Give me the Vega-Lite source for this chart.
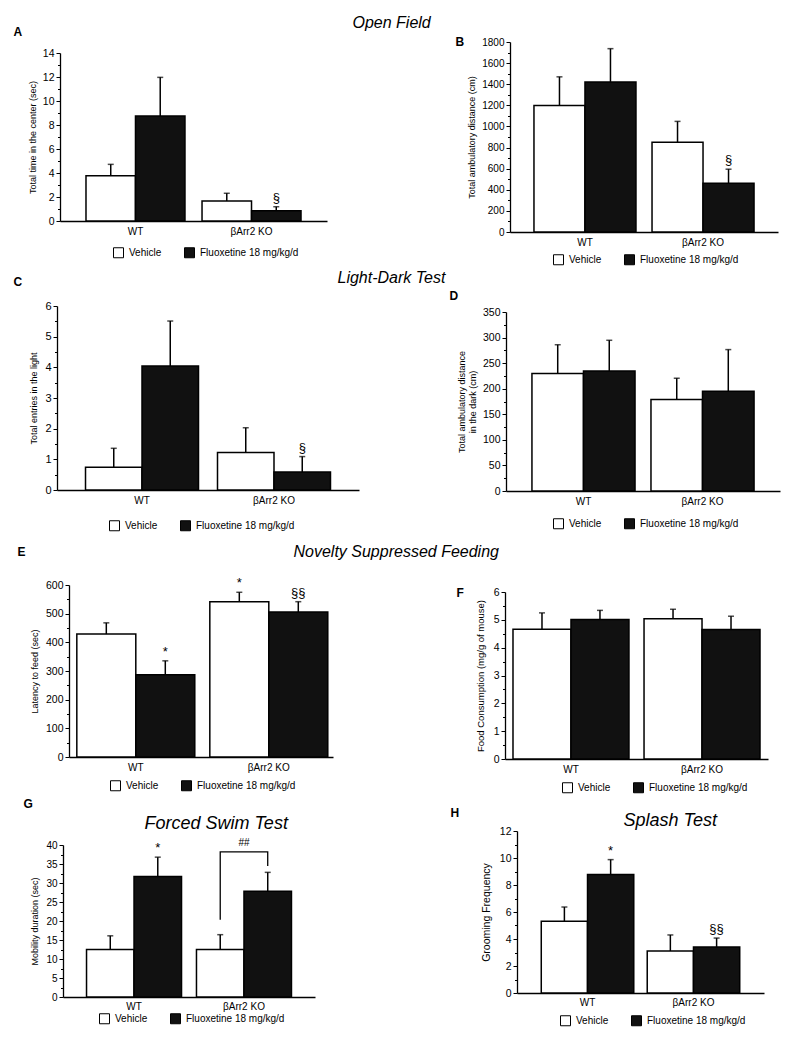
{
  "$schema": "https://vega.github.io/schema/vega-lite/v6.json",
  "padding": {"left": 13, "top": 14, "right": 5, "bottom": 5},
  "background": "white",
  "datasets": {
    "A": [
      {"group": "WT", "treatment": "Vehicle", "mean": 3.78, "upper": 4.72, "sig": ""},
      {"group": "WT", "treatment": "Fluoxetine 18 mg/kg/d", "mean": 8.75, "upper": 11.97, "sig": ""},
      {"group": "βArr2 KO", "treatment": "Vehicle", "mean": 1.67, "upper": 2.31, "sig": ""},
      {"group": "βArr2 KO", "treatment": "Fluoxetine 18 mg/kg/d", "mean": 0.86, "upper": 1.19, "sig": "§"}
    ],
    "B": [
      {"group": "WT", "treatment": "Vehicle", "mean": 1199, "upper": 1470, "sig": ""},
      {"group": "WT", "treatment": "Fluoxetine 18 mg/kg/d", "mean": 1422, "upper": 1737, "sig": ""},
      {"group": "βArr2 KO", "treatment": "Vehicle", "mean": 850, "upper": 1048, "sig": ""},
      {"group": "βArr2 KO", "treatment": "Fluoxetine 18 mg/kg/d", "mean": 463, "upper": 595, "sig": "§"}
    ],
    "C": [
      {"group": "WT", "treatment": "Vehicle", "mean": 0.74, "upper": 1.36, "sig": ""},
      {"group": "WT", "treatment": "Fluoxetine 18 mg/kg/d", "mean": 4.04, "upper": 5.51, "sig": ""},
      {"group": "βArr2 KO", "treatment": "Vehicle", "mean": 1.22, "upper": 2.03, "sig": ""},
      {"group": "βArr2 KO", "treatment": "Fluoxetine 18 mg/kg/d", "mean": 0.59, "upper": 1.09, "sig": "§"}
    ],
    "D": [
      {"group": "WT", "treatment": "Vehicle", "mean": 229.7, "upper": 286, "sig": ""},
      {"group": "WT", "treatment": "Fluoxetine 18 mg/kg/d", "mean": 234.8, "upper": 294.7, "sig": ""},
      {"group": "βArr2 KO", "treatment": "Vehicle", "mean": 179, "upper": 220.5, "sig": ""},
      {"group": "βArr2 KO", "treatment": "Fluoxetine 18 mg/kg/d", "mean": 195.2, "upper": 276.5, "sig": ""}
    ],
    "E": [
      {"group": "WT", "treatment": "Vehicle", "mean": 428.9, "upper": 468, "sig": ""},
      {"group": "WT", "treatment": "Fluoxetine 18 mg/kg/d", "mean": 286.6, "upper": 335.5, "sig": "*"},
      {"group": "βArr2 KO", "treatment": "Vehicle", "mean": 541.8, "upper": 574.6, "sig": "*"},
      {"group": "βArr2 KO", "treatment": "Fluoxetine 18 mg/kg/d", "mean": 505.8, "upper": 541.8, "sig": "§§"}
    ],
    "F": [
      {"group": "WT", "treatment": "Vehicle", "mean": 4.66, "upper": 5.25, "sig": ""},
      {"group": "WT", "treatment": "Fluoxetine 18 mg/kg/d", "mean": 5.01, "upper": 5.34, "sig": ""},
      {"group": "βArr2 KO", "treatment": "Vehicle", "mean": 5.04, "upper": 5.38, "sig": ""},
      {"group": "βArr2 KO", "treatment": "Fluoxetine 18 mg/kg/d", "mean": 4.65, "upper": 5.13, "sig": ""}
    ],
    "G": [
      {"group": "WT", "treatment": "Vehicle", "mean": 12.5, "upper": 16.1, "sig": ""},
      {"group": "WT", "treatment": "Fluoxetine 18 mg/kg/d", "mean": 31.7, "upper": 36.8, "sig": "*"},
      {"group": "βArr2 KO", "treatment": "Vehicle", "mean": 12.5, "upper": 16.4, "sig": ""},
      {"group": "βArr2 KO", "treatment": "Fluoxetine 18 mg/kg/d", "mean": 27.8, "upper": 32.8, "sig": ""}
    ],
    "G_bracket": [
      {"group": "βArr2 KO", "treatment": "Vehicle", "y": 20.3, "step": 1},
      {"group": "βArr2 KO", "treatment": "Vehicle", "y": 38.2, "step": 2},
      {"group": "βArr2 KO", "treatment": "Fluoxetine 18 mg/kg/d", "y": 38.2, "step": 3},
      {"group": "βArr2 KO", "treatment": "Fluoxetine 18 mg/kg/d", "y": 34.5, "step": 4}
    ],
    "G_label": [
      {"group": "βArr2 KO", "y": 40.6, "label": "##"}
    ],
    "H": [
      {"group": "WT", "treatment": "Vehicle", "mean": 5.31, "upper": 6.37, "sig": ""},
      {"group": "WT", "treatment": "Fluoxetine 18 mg/kg/d", "mean": 8.77, "upper": 9.88, "sig": "*"},
      {"group": "βArr2 KO", "treatment": "Vehicle", "mean": 3.11, "upper": 4.3, "sig": ""},
      {"group": "βArr2 KO", "treatment": "Fluoxetine 18 mg/kg/d", "mean": 3.41, "upper": 4.07, "sig": "§§"}
    ]
  },
  "columns": 2,
  "spacing": {"row": 72, "column": 158},
  "bounds": "flush",
  "resolve": {"scale": {"fill": "independent", "xOffset": "independent"}},
  "concat": [
    {
      "width": 290, "height": 192,
      "data": {"name": "A"},
      "layer": [
        {"mark": {"type": "bar", "stroke": "black", "strokeWidth": 1.5},
         "encoding": {
           "x": {"field": "group", "type": "nominal", "sort": ["WT", "βArr2 KO"], "scale": {"range": [-9, 258], "paddingInner": 0.147, "paddingOuter": 0.224}, "axis": {"orient": "bottom", "title": null, "ticks": false, "labelAngle": 0, "labelFontSize": 10, "labelPadding": 5, "offset": -13, "domainWidth": 1.3}},
           "xOffset": {"field": "treatment", "type": "nominal", "sort": ["Vehicle", "Fluoxetine 18 mg/kg/d"]},
           "y": {"field": "mean", "type": "quantitative", "scale": {"domain": [0, 14], "range": [179, 11], "nice": false, "zero": true}, "axis": {"orient": "left", "values": [0, 2, 4, 6, 8, 10, 12, 14], "format": "d", "title": "Total time in the center (sec)", "offset": 9, "tickSize": 4, "labelFontSize": 10.5, "titleFontSize": 9, "titlePadding": 5, "domainWidth": 1.3}},
           "fill": {"field": "treatment", "type": "nominal", "scale": {"domain": ["Vehicle", "Fluoxetine 18 mg/kg/d"], "range": ["white", "#111111"]}, "legend": {"orient": "none", "legendX": 44, "legendY": 205, "direction": "horizontal", "title": null}}
         }},
        {"mark": {"type": "rule", "strokeWidth": 1.5, "color": "black"},
         "encoding": {
           "x": {"field": "group", "type": "nominal", "sort": ["WT", "βArr2 KO"], "axis": {"orient": "top", "title": "A", "labels": false, "ticks": false, "domain": false, "titleX": -56, "titleY": -7, "titleAngle": 0, "titleAlign": "left", "titleBaseline": "alphabetic", "titleFontWeight": "bold", "titleFontSize": 12}},
           "xOffset": {"field": "treatment", "type": "nominal", "sort": ["Vehicle", "Fluoxetine 18 mg/kg/d"]},
           "y": {"field": "mean", "type": "quantitative", "axis": {"orient": "left", "values": [1, 3, 5, 7, 9, 11, 13], "labels": false, "domain": false, "title": null, "tickSize": 2.5, "offset": 9}},
           "y2": {"field": "upper"}
         }},
        {"mark": {"type": "tick", "thickness": 1.5, "size": 6, "orient": "horizontal", "color": "black"},
         "encoding": {
           "x": {"field": "group", "type": "nominal", "sort": ["WT", "βArr2 KO"], "axis": null},
           "xOffset": {"field": "treatment", "type": "nominal", "sort": ["Vehicle", "Fluoxetine 18 mg/kg/d"]},
           "y": {"field": "upper", "type": "quantitative", "axis": null}
         }},
        {"transform": [{"filter": "datum.sig != ''"}],
         "mark": {"type": "text", "baseline": "bottom", "dy": -2, "fontSize": 13, "color": "black"},
         "encoding": {
           "x": {"field": "group", "type": "nominal", "sort": ["WT", "βArr2 KO"], "axis": {"orient": "top", "title": "Open Field", "labels": false, "ticks": false, "domain": false, "titleX": 283, "titleY": -15, "titleAngle": 0, "titleAlign": "left", "titleBaseline": "alphabetic", "titleFontStyle": "italic", "titleFontWeight": "normal", "titleFontSize": 16}},
           "xOffset": {"field": "treatment", "type": "nominal", "sort": ["Vehicle", "Fluoxetine 18 mg/kg/d"]},
           "y": {"field": "upper", "type": "quantitative", "axis": null},
           "text": {"field": "sig"}
         }}
      ],
      "resolve": {"axis": {"x": "independent", "y": "independent"}}
    },
    {
      "width": 263, "height": 192,
      "data": {"name": "B"},
      "layer": [
        {"mark": {"type": "bar", "stroke": "black", "strokeWidth": 1.5},
         "encoding": {
           "x": {"field": "group", "type": "nominal", "sort": ["WT", "βArr2 KO"], "scale": {"range": [-7, 261], "paddingInner": 0.136, "paddingOuter": 0.203}, "axis": {"orient": "bottom", "title": null, "ticks": false, "labelAngle": 0, "labelFontSize": 10, "labelPadding": 5, "offset": -2, "domainWidth": 1.3}},
           "xOffset": {"field": "treatment", "type": "nominal", "sort": ["Vehicle", "Fluoxetine 18 mg/kg/d"]},
           "y": {"field": "mean", "type": "quantitative", "scale": {"domain": [0, 1800], "range": [190, 0], "nice": false}, "axis": {"orient": "left", "values": [0, 200, 400, 600, 800, 1000, 1200, 1400, 1600, 1800], "format": "d", "title": "Total ambulatory distance (cm)", "offset": 7, "tickSize": 4, "labelFontSize": 10, "titleFontSize": 9, "titlePadding": 5, "domainWidth": 1.3}},
           "fill": {"field": "treatment", "type": "nominal", "scale": {"domain": ["Vehicle", "Fluoxetine 18 mg/kg/d"], "range": ["white", "#111111"]}, "legend": {"orient": "none", "legendX": 36, "legendY": 212, "direction": "horizontal", "title": null}}
         }},
        {"mark": {"type": "rule", "strokeWidth": 1.5, "color": "black"},
         "encoding": {
           "x": {"field": "group", "type": "nominal", "sort": ["WT", "βArr2 KO"], "axis": {"orient": "top", "title": "B", "labels": false, "ticks": false, "domain": false, "titleX": -62, "titleY": 3, "titleAngle": 0, "titleAlign": "left", "titleBaseline": "alphabetic", "titleFontWeight": "bold", "titleFontSize": 12}},
           "xOffset": {"field": "treatment", "type": "nominal", "sort": ["Vehicle", "Fluoxetine 18 mg/kg/d"]},
           "y": {"field": "mean", "type": "quantitative", "axis": {"orient": "left", "values": [100, 300, 500, 700, 900, 1100, 1300, 1500, 1700], "labels": false, "domain": false, "title": null, "tickSize": 2.5, "offset": 7}},
           "y2": {"field": "upper"}
         }},
        {"mark": {"type": "tick", "thickness": 1.5, "size": 6, "orient": "horizontal", "color": "black"},
         "encoding": {
           "x": {"field": "group", "type": "nominal", "sort": ["WT", "βArr2 KO"], "axis": null},
           "xOffset": {"field": "treatment", "type": "nominal", "sort": ["Vehicle", "Fluoxetine 18 mg/kg/d"]},
           "y": {"field": "upper", "type": "quantitative", "axis": null}
         }},
        {"transform": [{"filter": "datum.sig != ''"}],
         "mark": {"type": "text", "baseline": "bottom", "dy": -2, "fontSize": 13, "color": "black"},
         "encoding": {
           "x": {"field": "group", "type": "nominal", "sort": ["WT", "βArr2 KO"], "axis": null},
           "xOffset": {"field": "treatment", "type": "nominal", "sort": ["Vehicle", "Fluoxetine 18 mg/kg/d"]},
           "y": {"field": "upper", "type": "quantitative", "axis": null},
           "text": {"field": "sig"}
         }}
      ],
      "resolve": {"axis": {"x": "independent", "y": "independent"}}
    },
    {
      "width": 290, "height": 207,
      "data": {"name": "C"},
      "layer": [
        {"mark": {"type": "bar", "stroke": "black", "strokeWidth": 1.5},
         "encoding": {
           "x": {"field": "group", "type": "nominal", "sort": ["WT", "βArr2 KO"], "scale": {"range": [-12, 290], "paddingInner": 0.144, "paddingOuter": 0.216}, "axis": {"orient": "bottom", "title": null, "ticks": false, "labelAngle": 0, "labelFontSize": 10, "labelPadding": 5, "offset": -23, "domainWidth": 1.3}},
           "xOffset": {"field": "treatment", "type": "nominal", "sort": ["Vehicle", "Fluoxetine 18 mg/kg/d"]},
           "y": {"field": "mean", "type": "quantitative", "scale": {"domain": [0, 6], "range": [184, 0], "nice": false}, "axis": {"orient": "left", "values": [0, 1, 2, 3, 4, 5, 6], "format": "d", "title": "Total entries in the light", "offset": 12, "tickSize": 4, "labelFontSize": 11, "titleFontSize": 9, "titlePadding": 6, "domainWidth": 1.3}},
           "fill": {"field": "treatment", "type": "nominal", "scale": {"domain": ["Vehicle", "Fluoxetine 18 mg/kg/d"], "range": ["white", "#111111"]}, "legend": {"orient": "none", "legendX": 40, "legendY": 214, "direction": "horizontal", "title": null}}
         }},
        {"mark": {"type": "rule", "strokeWidth": 1.5, "color": "black"},
         "encoding": {
           "x": {"field": "group", "type": "nominal", "sort": ["WT", "βArr2 KO"], "axis": {"orient": "top", "title": "C", "labels": false, "ticks": false, "domain": false, "titleX": -56, "titleY": -21, "titleAngle": 0, "titleAlign": "left", "titleBaseline": "alphabetic", "titleFontWeight": "bold", "titleFontSize": 12}},
           "xOffset": {"field": "treatment", "type": "nominal", "sort": ["Vehicle", "Fluoxetine 18 mg/kg/d"]},
           "y": {"field": "mean", "type": "quantitative", "axis": {"orient": "left", "values": [0.5, 1.5, 2.5, 3.5, 4.5, 5.5], "labels": false, "domain": false, "title": null, "tickSize": 2.5, "offset": 12}},
           "y2": {"field": "upper"}
         }},
        {"mark": {"type": "tick", "thickness": 1.5, "size": 6, "orient": "horizontal", "color": "black"},
         "encoding": {
           "x": {"field": "group", "type": "nominal", "sort": ["WT", "βArr2 KO"], "axis": null},
           "xOffset": {"field": "treatment", "type": "nominal", "sort": ["Vehicle", "Fluoxetine 18 mg/kg/d"]},
           "y": {"field": "upper", "type": "quantitative", "axis": null}
         }},
        {"transform": [{"filter": "datum.sig != ''"}],
         "mark": {"type": "text", "baseline": "bottom", "dy": -2, "fontSize": 13, "color": "black"},
         "encoding": {
           "x": {"field": "group", "type": "nominal", "sort": ["WT", "βArr2 KO"], "axis": {"orient": "top", "title": "Light-Dark Test", "labels": false, "ticks": false, "domain": false, "titleX": 268, "titleY": -24, "titleAngle": 0, "titleAlign": "left", "titleBaseline": "alphabetic", "titleFontStyle": "italic", "titleFontWeight": "normal", "titleFontSize": 16}},
           "xOffset": {"field": "treatment", "type": "nominal", "sort": ["Vehicle", "Fluoxetine 18 mg/kg/d"]},
           "y": {"field": "upper", "type": "quantitative", "axis": null},
           "text": {"field": "sig"}
         }}
      ],
      "resolve": {"axis": {"x": "independent", "y": "independent"}}
    },
    {
      "width": 263, "height": 207,
      "data": {"name": "D"},
      "layer": [
        {"mark": {"type": "bar", "stroke": "black", "strokeWidth": 1.5},
         "encoding": {
           "x": {"field": "group", "type": "nominal", "sort": ["WT", "βArr2 KO"], "scale": {"range": [-11, 263], "paddingInner": 0.134, "paddingOuter": 0.218}, "axis": {"orient": "bottom", "title": null, "ticks": false, "labelAngle": 0, "labelFontSize": 10, "labelPadding": 5, "offset": -22, "domainWidth": 1.3}},
           "xOffset": {"field": "treatment", "type": "nominal", "sort": ["Vehicle", "Fluoxetine 18 mg/kg/d"]},
           "y": {"field": "mean", "type": "quantitative", "scale": {"domain": [0, 350], "range": [185, 6], "nice": false}, "axis": {"orient": "left", "values": [0, 50, 100, 150, 200, 250, 300, 350], "format": "d", "title": ["Total ambulatory distance", "in the dark (cm)"], "offset": 11, "tickSize": 4, "labelFontSize": 10.5, "titleFontSize": 9, "titlePadding": 5, "domainWidth": 1.3}},
           "fill": {"field": "treatment", "type": "nominal", "scale": {"domain": ["Vehicle", "Fluoxetine 18 mg/kg/d"], "range": ["white", "#111111"]}, "legend": {"orient": "none", "legendX": 36, "legendY": 212, "direction": "horizontal", "title": null}}
         }},
        {"mark": {"type": "rule", "strokeWidth": 1.5, "color": "black"},
         "encoding": {
           "x": {"field": "group", "type": "nominal", "sort": ["WT", "βArr2 KO"], "axis": {"orient": "top", "title": "D", "labels": false, "ticks": false, "domain": false, "titleX": -68, "titleY": -7, "titleAngle": 0, "titleAlign": "left", "titleBaseline": "alphabetic", "titleFontWeight": "bold", "titleFontSize": 12}},
           "xOffset": {"field": "treatment", "type": "nominal", "sort": ["Vehicle", "Fluoxetine 18 mg/kg/d"]},
           "y": {"field": "mean", "type": "quantitative", "axis": {"orient": "left", "values": [25, 75, 125, 175, 225, 275, 325], "labels": false, "domain": false, "title": null, "tickSize": 2.5, "offset": 11}},
           "y2": {"field": "upper"}
         }},
        {"mark": {"type": "tick", "thickness": 1.5, "size": 6, "orient": "horizontal", "color": "black"},
         "encoding": {
           "x": {"field": "group", "type": "nominal", "sort": ["WT", "βArr2 KO"], "axis": null},
           "xOffset": {"field": "treatment", "type": "nominal", "sort": ["Vehicle", "Fluoxetine 18 mg/kg/d"]},
           "y": {"field": "upper", "type": "quantitative", "axis": null}
         }}
      ],
      "resolve": {"axis": {"x": "independent", "y": "independent"}}
    },
    {
      "width": 290, "height": 174,
      "data": {"name": "E"},
      "layer": [
        {"mark": {"type": "bar", "stroke": "black", "strokeWidth": 1.5},
         "encoding": {
           "x": {"field": "group", "type": "nominal", "sort": ["WT", "βArr2 KO"], "scale": {"range": [0, 264], "paddingInner": 0.113, "paddingOuter": 0.049, "align": 0.6}, "axis": {"orient": "bottom", "title": null, "ticks": false, "labelAngle": 0, "labelFontSize": 10, "labelPadding": 5, "offset": -2, "domainWidth": 1.3}},
           "xOffset": {"field": "treatment", "type": "nominal", "sort": ["Vehicle", "Fluoxetine 18 mg/kg/d"]},
           "y": {"field": "mean", "type": "quantitative", "scale": {"domain": [0, 600], "range": [172, 0], "nice": false}, "axis": {"orient": "left", "values": [0, 100, 200, 300, 400, 500, 600], "format": "d", "title": "Latency to feed (sec)", "offset": 0, "tickSize": 4, "labelFontSize": 10.5, "titleFontSize": 9, "titlePadding": 6, "domainWidth": 1.3}},
           "fill": {"field": "treatment", "type": "nominal", "scale": {"domain": ["Vehicle", "Fluoxetine 18 mg/kg/d"], "range": ["white", "#111111"]}, "legend": {"orient": "none", "legendX": 41, "legendY": 195, "direction": "horizontal", "title": null}}
         }},
        {"mark": {"type": "rule", "strokeWidth": 1.5, "color": "black"},
         "encoding": {
           "x": {"field": "group", "type": "nominal", "sort": ["WT", "βArr2 KO"], "axis": {"orient": "top", "title": "E", "labels": false, "ticks": false, "domain": false, "titleX": -52, "titleY": -30, "titleAngle": 0, "titleAlign": "left", "titleBaseline": "alphabetic", "titleFontWeight": "bold", "titleFontSize": 12}},
           "xOffset": {"field": "treatment", "type": "nominal", "sort": ["Vehicle", "Fluoxetine 18 mg/kg/d"]},
           "y": {"field": "mean", "type": "quantitative", "axis": {"orient": "left", "values": [50, 150, 250, 350, 450, 550], "labels": false, "domain": false, "title": null, "tickSize": 2.5, "offset": 0}},
           "y2": {"field": "upper"}
         }},
        {"mark": {"type": "tick", "thickness": 1.5, "size": 6, "orient": "horizontal", "color": "black"},
         "encoding": {
           "x": {"field": "group", "type": "nominal", "sort": ["WT", "βArr2 KO"], "axis": null},
           "xOffset": {"field": "treatment", "type": "nominal", "sort": ["Vehicle", "Fluoxetine 18 mg/kg/d"]},
           "y": {"field": "upper", "type": "quantitative", "axis": null}
         }},
        {"transform": [{"filter": "datum.sig != ''"}],
         "mark": {"type": "text", "baseline": "bottom", "dy": -2, "fontSize": 13, "color": "black"},
         "encoding": {
           "x": {"field": "group", "type": "nominal", "sort": ["WT", "βArr2 KO"], "axis": {"orient": "top", "title": "Novelty Suppressed Feeding", "labels": false, "ticks": false, "domain": false, "titleX": 224, "titleY": -29, "titleAngle": 0, "titleAlign": "left", "titleBaseline": "alphabetic", "titleFontStyle": "italic", "titleFontWeight": "normal", "titleFontSize": 16}},
           "xOffset": {"field": "treatment", "type": "nominal", "sort": ["Vehicle", "Fluoxetine 18 mg/kg/d"]},
           "y": {"field": "upper", "type": "quantitative", "axis": null},
           "text": {"field": "sig"}
         }}
      ],
      "resolve": {"axis": {"x": "independent", "y": "independent"}}
    },
    {
      "width": 263, "height": 174,
      "data": {"name": "F"},
      "layer": [
        {"mark": {"type": "bar", "stroke": "black", "strokeWidth": 1.5},
         "encoding": {
           "x": {"field": "group", "type": "nominal", "sort": ["WT", "βArr2 KO"], "scale": {"range": [-12, 251], "paddingInner": 0.115, "paddingOuter": 0.061}, "axis": {"orient": "bottom", "title": null, "ticks": false, "labelAngle": 0, "labelFontSize": 10, "labelPadding": 5, "offset": 0, "domainWidth": 1.3}},
           "xOffset": {"field": "treatment", "type": "nominal", "sort": ["Vehicle", "Fluoxetine 18 mg/kg/d"]},
           "y": {"field": "mean", "type": "quantitative", "scale": {"domain": [0, 6], "range": [174, 7], "nice": false}, "axis": {"orient": "left", "values": [0, 1, 2, 3, 4, 5, 6], "format": "d", "title": "Food Consumption (mg/g of mouse)", "offset": 12, "tickSize": 4, "labelFontSize": 10.5, "titleFontSize": 9.5, "titlePadding": 8, "domainWidth": 1.3}},
           "fill": {"field": "treatment", "type": "nominal", "scale": {"domain": ["Vehicle", "Fluoxetine 18 mg/kg/d"], "range": ["white", "#111111"]}, "legend": {"orient": "none", "legendX": 45, "legendY": 197, "direction": "horizontal", "title": null}}
         }},
        {"mark": {"type": "rule", "strokeWidth": 1.5, "color": "black"},
         "encoding": {
           "x": {"field": "group", "type": "nominal", "sort": ["WT", "βArr2 KO"], "axis": {"orient": "top", "title": "F", "labels": false, "ticks": false, "domain": false, "titleX": -61, "titleY": 11, "titleAngle": 0, "titleAlign": "left", "titleBaseline": "alphabetic", "titleFontWeight": "bold", "titleFontSize": 12}},
           "xOffset": {"field": "treatment", "type": "nominal", "sort": ["Vehicle", "Fluoxetine 18 mg/kg/d"]},
           "y": {"field": "mean", "type": "quantitative", "axis": {"orient": "left", "values": [0.5, 1.5, 2.5, 3.5, 4.5, 5.5], "labels": false, "domain": false, "title": null, "tickSize": 2.5, "offset": 12}},
           "y2": {"field": "upper"}
         }},
        {"mark": {"type": "tick", "thickness": 1.5, "size": 6, "orient": "horizontal", "color": "black"},
         "encoding": {
           "x": {"field": "group", "type": "nominal", "sort": ["WT", "βArr2 KO"], "axis": null},
           "xOffset": {"field": "treatment", "type": "nominal", "sort": ["Vehicle", "Fluoxetine 18 mg/kg/d"]},
           "y": {"field": "upper", "type": "quantitative", "axis": null}
         }}
      ],
      "resolve": {"axis": {"x": "independent", "y": "independent"}}
    },
    {
      "width": 290, "height": 166,
      "layer": [
        {"data": {"name": "G"},
         "mark": {"type": "bar", "stroke": "black", "strokeWidth": 1.5},
         "encoding": {
           "x": {"field": "group", "type": "nominal", "sort": ["WT", "βArr2 KO"], "scale": {"range": [-6, 246], "paddingInner": 0.136, "paddingOuter": 0.214}, "axis": {"orient": "bottom", "title": null, "ticks": false, "labelAngle": 0, "labelFontSize": 10, "labelPadding": 4, "offset": 0, "domainWidth": 1.3}},
           "xOffset": {"field": "treatment", "type": "nominal", "sort": ["Vehicle", "Fluoxetine 18 mg/kg/d"]},
           "y": {"field": "mean", "type": "quantitative", "scale": {"domain": [0, 40], "range": [166, 14], "nice": false}, "axis": {"orient": "left", "values": [0, 5, 10, 15, 20, 25, 30, 35, 40], "format": "d", "title": "Mobility duration (sec)", "offset": 6, "tickSize": 4, "labelFontSize": 10, "titleFontSize": 9, "titlePadding": 6, "domainWidth": 1.3}},
           "fill": {"field": "treatment", "type": "nominal", "scale": {"domain": ["Vehicle", "Fluoxetine 18 mg/kg/d"], "range": ["white", "#111111"]}, "legend": {"orient": "none", "legendX": 30, "legendY": 182, "direction": "horizontal", "title": null}}
         }},
        {"data": {"name": "G"},
         "mark": {"type": "rule", "strokeWidth": 1.5, "color": "black"},
         "encoding": {
           "x": {"field": "group", "type": "nominal", "sort": ["WT", "βArr2 KO"], "axis": {"orient": "top", "title": "G", "labels": false, "ticks": false, "domain": false, "titleX": -46, "titleY": -24, "titleAngle": 0, "titleAlign": "left", "titleBaseline": "alphabetic", "titleFontWeight": "bold", "titleFontSize": 12}},
           "xOffset": {"field": "treatment", "type": "nominal", "sort": ["Vehicle", "Fluoxetine 18 mg/kg/d"]},
           "y": {"field": "mean", "type": "quantitative", "axis": {"orient": "left", "values": [2.5, 7.5, 12.5, 17.5, 22.5, 27.5, 32.5, 37.5], "labels": false, "domain": false, "title": null, "tickSize": 2.5, "offset": 6}},
           "y2": {"field": "upper"}
         }},
        {"data": {"name": "G"},
         "mark": {"type": "tick", "thickness": 1.5, "size": 6, "orient": "horizontal", "color": "black"},
         "encoding": {
           "x": {"field": "group", "type": "nominal", "sort": ["WT", "βArr2 KO"], "axis": null},
           "xOffset": {"field": "treatment", "type": "nominal", "sort": ["Vehicle", "Fluoxetine 18 mg/kg/d"]},
           "y": {"field": "upper", "type": "quantitative", "axis": null}
         }},
        {"data": {"name": "G"},
         "transform": [{"filter": "datum.sig != ''"}],
         "mark": {"type": "text", "baseline": "bottom", "dy": -2, "fontSize": 13, "color": "black"},
         "encoding": {
           "x": {"field": "group", "type": "nominal", "sort": ["WT", "βArr2 KO"], "axis": {"orient": "top", "title": "Forced Swim Test", "labels": false, "ticks": false, "domain": false, "titleX": 75, "titleY": -3, "titleAngle": 0, "titleAlign": "left", "titleBaseline": "alphabetic", "titleFontStyle": "italic", "titleFontWeight": "normal", "titleFontSize": 18}},
           "xOffset": {"field": "treatment", "type": "nominal", "sort": ["Vehicle", "Fluoxetine 18 mg/kg/d"]},
           "y": {"field": "upper", "type": "quantitative", "axis": null},
           "text": {"field": "sig"}
         }},
        {"data": {"name": "G_bracket"},
         "mark": {"type": "line", "strokeWidth": 1.3, "color": "black"},
         "encoding": {
           "x": {"field": "group", "type": "nominal", "sort": ["WT", "βArr2 KO"], "axis": null},
           "xOffset": {"field": "treatment", "type": "nominal", "sort": ["Vehicle", "Fluoxetine 18 mg/kg/d"]},
           "y": {"field": "y", "type": "quantitative", "axis": null},
           "order": {"field": "step", "type": "quantitative"}
         }},
        {"data": {"name": "G_label"},
         "mark": {"type": "text", "baseline": "middle", "fontSize": 10, "color": "black"},
         "encoding": {
           "x": {"field": "group", "type": "nominal", "sort": ["WT", "βArr2 KO"], "axis": null},
           "y": {"field": "y", "type": "quantitative", "axis": null},
           "text": {"field": "label"}
         }}
      ],
      "resolve": {"axis": {"x": "independent", "y": "independent"}}
    },
    {
      "width": 263, "height": 166,
      "data": {"name": "H"},
      "layer": [
        {"mark": {"type": "bar", "stroke": "black", "strokeWidth": 1.5},
         "encoding": {
           "x": {"field": "group", "type": "nominal", "sort": ["WT", "βArr2 KO"], "scale": {"range": [0, 247], "paddingInner": 0.127, "paddingOuter": 0.229}, "axis": {"orient": "bottom", "title": null, "ticks": false, "labelAngle": 0, "labelFontSize": 10, "labelPadding": 4, "offset": -4, "domainWidth": 1.3}},
           "xOffset": {"field": "treatment", "type": "nominal", "sort": ["Vehicle", "Fluoxetine 18 mg/kg/d"]},
           "y": {"field": "mean", "type": "quantitative", "scale": {"domain": [0, 12], "range": [162, 0], "nice": false}, "axis": {"orient": "left", "values": [0, 2, 4, 6, 8, 10, 12], "format": "d", "title": "Grooming Frequency", "offset": 0, "tickSize": 4, "labelFontSize": 10.5, "titleFontSize": 10.5, "titlePadding": 8, "domainWidth": 1.3}},
           "fill": {"field": "treatment", "type": "nominal", "scale": {"domain": ["Vehicle", "Fluoxetine 18 mg/kg/d"], "range": ["white", "#111111"]}, "legend": {"orient": "none", "legendX": 43, "legendY": 184, "direction": "horizontal", "title": null}}
         }},
        {"mark": {"type": "rule", "strokeWidth": 1.5, "color": "black"},
         "encoding": {
           "x": {"field": "group", "type": "nominal", "sort": ["WT", "βArr2 KO"], "axis": {"orient": "top", "title": "H", "labels": false, "ticks": false, "domain": false, "titleX": -67, "titleY": -15, "titleAngle": 0, "titleAlign": "left", "titleBaseline": "alphabetic", "titleFontWeight": "bold", "titleFontSize": 12}},
           "xOffset": {"field": "treatment", "type": "nominal", "sort": ["Vehicle", "Fluoxetine 18 mg/kg/d"]},
           "y": {"field": "mean", "type": "quantitative", "axis": {"orient": "left", "values": [1, 3, 5, 7, 9, 11], "labels": false, "domain": false, "title": null, "tickSize": 2.5, "offset": 0}},
           "y2": {"field": "upper"}
         }},
        {"mark": {"type": "tick", "thickness": 1.5, "size": 6, "orient": "horizontal", "color": "black"},
         "encoding": {
           "x": {"field": "group", "type": "nominal", "sort": ["WT", "βArr2 KO"], "axis": null},
           "xOffset": {"field": "treatment", "type": "nominal", "sort": ["Vehicle", "Fluoxetine 18 mg/kg/d"]},
           "y": {"field": "upper", "type": "quantitative", "axis": null}
         }},
        {"transform": [{"filter": "datum.sig != ''"}],
         "mark": {"type": "text", "baseline": "bottom", "dy": -2, "fontSize": 13, "color": "black"},
         "encoding": {
           "x": {"field": "group", "type": "nominal", "sort": ["WT", "βArr2 KO"], "axis": {"orient": "top", "title": "Splash Test", "labels": false, "ticks": false, "domain": false, "titleX": 106, "titleY": -6, "titleAngle": 0, "titleAlign": "left", "titleBaseline": "alphabetic", "titleFontStyle": "italic", "titleFontWeight": "normal", "titleFontSize": 18}},
           "xOffset": {"field": "treatment", "type": "nominal", "sort": ["Vehicle", "Fluoxetine 18 mg/kg/d"]},
           "y": {"field": "upper", "type": "quantitative", "axis": null},
           "text": {"field": "sig"}
         }}
      ],
      "resolve": {"axis": {"x": "independent", "y": "independent"}}
    }
  ],
  "config": {
    "font": "Liberation Sans",
    "view": {"stroke": null},
    "axis": {"grid": false, "labelColor": "black", "titleColor": "black", "domainColor": "black", "tickColor": "black", "labelFont": "Liberation Sans", "titleFont": "Liberation Sans", "titleFontWeight": "normal", "tickWidth": 1},
    "legend": {"symbolType": "square", "symbolSize": 100, "symbolStrokeColor": "black", "symbolStrokeWidth": 1, "labelFont": "Liberation Sans", "labelFontSize": 10, "labelColor": "black", "labelOffset": 5, "columnPadding": 20, "padding": 0, "labelLimit": 300},
    "text": {"font": "Liberation Sans"}
  }
}
